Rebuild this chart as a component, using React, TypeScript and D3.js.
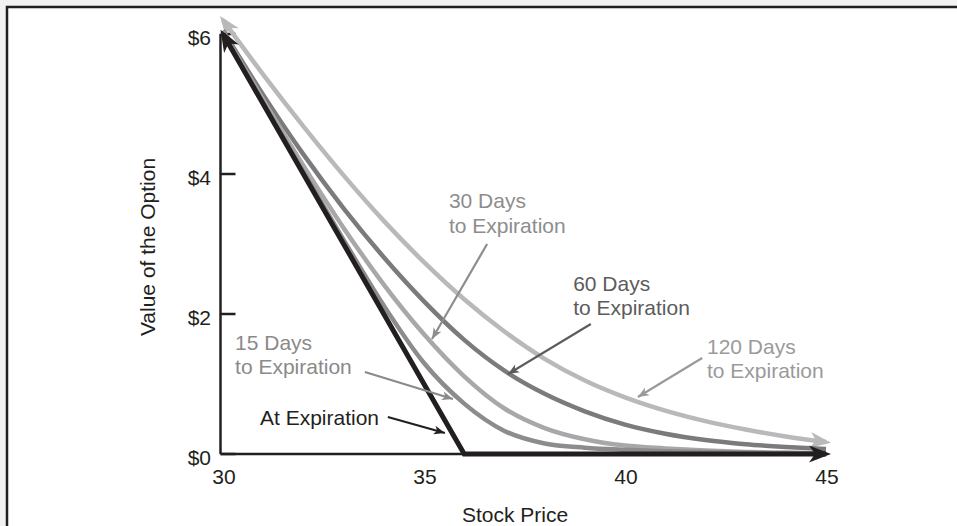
import React from 'react';
import * as d3 from 'd3';

// ---- Data ----
const stockPrices = [30, 31, 32, 33, 34, 35, 36, 37, 38, 39, 40, 41, 42, 43, 44, 45];
const atExpirationPrices = [30, 36, 45];
const atExpirationValues = [6, 0, 0];
const days15Values = [6.02, 5.02, 4.03, 3.06, 2.12, 1.3, 0.72, 0.33, 0.15, 0.09, 0.06, 0.04, 0.03, 0.02, 0.01, 0.01];
const days30Values = [6.03, 5.06, 4.12, 3.23, 2.42, 1.71, 1.11, 0.65, 0.37, 0.21, 0.12, 0.08, 0.05, 0.03, 0.02, 0.01];
const days60Values = [6.05, 5.13, 4.28, 3.51, 2.81, 2.18, 1.63, 1.19, 0.86, 0.61, 0.42, 0.29, 0.2, 0.14, 0.1, 0.07];
const days120Values = [6.2, 5.42, 4.68, 3.98, 3.33, 2.74, 2.21, 1.75, 1.36, 1.05, 0.81, 0.62, 0.47, 0.35, 0.25, 0.17];

const xTicks = [30, 35, 40, 45];
const yTicks = [0, 2, 4, 6];
const yTickLabels = ['$0', '$2', '$4', '$6'];

const xTitle = 'Stock Price';
const yTitle = 'Value of the Option';

// annotation anchors in data units (stock price, option value)
const annotations = [
  { lines: ['30 Days', 'to Expiration'], textS: 35.62, textV: 3.514, fromS: 36.57, fromV: 3.0, toS: 35.2, toV: 1.643, color: '#8d8d8d' },
  { lines: ['60 Days', 'to Expiration'], textS: 38.71, textV: 2.329, fromS: 39.15, fromV: 1.857, toS: 37.09, toV: 1.143, color: '#5c5c5c' },
  { lines: ['120 Days', 'to Expiration'], textS: 42.04, textV: 1.429, fromS: 41.92, fromV: 1.371, toS: 40.32, toV: 0.814, color: '#9a9a9a' },
  { lines: ['15 Days', 'to Expiration'], textS: 30.3, textV: 1.486, fromS: 33.53, fromV: 1.171, toS: 35.72, toV: 0.786, color: '#8a8a8a' },
  { lines: ['At Expiration'], textS: 30.92, textV: 0.414, fromS: 34.1, fromV: 0.529, toS: 35.52, toV: 0.3, color: '#231f20' },
];

const FONT = '"Liberation Sans", Arial, Helvetica, sans-serif';
const FS = 21;

export default function App() {
  const W = 957;
  const H = 526;
  const x = d3.scaleLinear().domain([30, 45]).range([223, 826]);
  const y = d3.scaleLinear().domain([0, 6]).range([454, 34]);
  const axisX = x(30) - 2.5;

  const smooth = d3
    .line<[number, number]>()
    .x((d) => x(d[0]))
    .y((d) => y(d[1]))
    .curve(d3.curveMonotoneX);
  const straight = d3
    .line<[number, number]>()
    .x((d) => x(d[0]))
    .y((d) => y(d[1]));

  const pts = (vals: number[]) => stockPrices.map((s, i) => [s, vals[i]] as [number, number]);
  const expPts = atExpirationPrices.map((s, i) => [s, atExpirationValues[i]] as [number, number]);

  const curves = [
    { vals: days120Values, color: '#b9b9bb', width: 4.5, marker: 'arrLight' },
    { vals: days60Values, color: '#7b7b7d', width: 4.5, marker: null },
    { vals: days30Values, color: '#a8a8aa', width: 4.5, marker: null },
    { vals: days15Values, color: '#8c8c8e', width: 4.5, marker: null },
  ];

  return (
    <svg
      width={W}
      height={H}
      style={{ position: 'absolute', left: 0, top: 0, background: '#fff' }}
      fontFamily={FONT}
    >
      <defs>
        <marker id="arrBlack" viewBox="-24 -9 25 18" refX={-5} refY={0} markerWidth={25} markerHeight={18}
          markerUnits="userSpaceOnUse" orient="auto-start-reverse">
          <path d="M0,0 L-22,-8.5 L-16,0 L-22,8.5 Z" fill="#231f20" />
        </marker>
        <marker id="arrLight" viewBox="-24 -9 25 18" refX={-5} refY={0} markerWidth={25} markerHeight={18}
          markerUnits="userSpaceOnUse" orient="auto-start-reverse">
          <path d="M0,0 L-21,-8 L-15,0 L-21,8 Z" fill="#b9b9bb" />
        </marker>
        {annotations.map((a, i) => (
          <marker key={i} id={`ann${i}`} viewBox="-12 -5 13 10" refX={0} refY={0} markerWidth={13} markerHeight={10}
            markerUnits="userSpaceOnUse" orient="auto">
            <path d="M0,0 L-11,-4.5 L-8,0 L-11,4.5 Z" fill={a.color} />
          </marker>
        ))}
      </defs>

      {/* frame */}
      <rect x={0} y={0} width={W} height={6} fill="#f2f2f2" />
      <rect x={0} y={0} width={6} height={H} fill="#f2f2f2" />
      <path d={`M7,${H} V7 H${W}`} fill="none" stroke="#231f20" strokeWidth={2.5} />

      {/* axes */}
      <line x1={axisX} x2={axisX} y1={y(6)} y2={y(0)} stroke="#231f20" strokeWidth={2.5} />
      <line x1={axisX} x2={x(45)} y1={y(0)} y2={y(0)} stroke="#231f20" strokeWidth={2.5} />
      {yTicks.map((t, i) => (
        <g key={t}>
          <line x1={axisX} x2={axisX + 15} y1={y(t)} y2={y(t)} stroke="#231f20" strokeWidth={2.5} />
          <text x={211} y={y(t) + 11} textAnchor="end" fontSize={FS} fill="#231f20">
            {yTickLabels[i]}
          </text>
        </g>
      ))}
      {xTicks.map((t) => (
        <text key={t} x={x(t) + 1} y={483.5} textAnchor="middle" fontSize={FS} fill="#231f20">
          {t}
        </text>
      ))}
      <text x={515} y={522} textAnchor="middle" fontSize={FS} fill="#231f20">
        {xTitle}
      </text>
      <text transform="translate(155,247) rotate(-90)" textAnchor="middle" fontSize={FS} fill="#231f20">
        {yTitle}
      </text>

      {/* curves */}
      {curves.map((c, i) => (
        <path
          key={i}
          d={smooth(pts(c.vals)) || ''}
          fill="none"
          stroke={c.color}
          strokeWidth={c.width}
          markerStart={c.marker ? `url(#${c.marker})` : undefined}
          markerEnd={c.marker ? `url(#${c.marker})` : undefined}
        />
      ))}
      <path
        d={straight(expPts) || ''}
        fill="none"
        stroke="#231f20"
        strokeWidth={5}
        strokeLinejoin="miter"
        markerStart="url(#arrBlack)"
        markerEnd="url(#arrBlack)"
      />

      {/* annotations */}
      {annotations.map((a, i) => (
        <g key={i}>
          <line
            x1={x(a.fromS)}
            y1={y(a.fromV)}
            x2={x(a.toS)}
            y2={y(a.toV)}
            stroke={a.color}
            strokeWidth={2.2}
            markerEnd={`url(#ann${i})`}
          />
          <text fontSize={FS} fill={a.color}>
            {a.lines.map((l, j) => (
              <tspan key={j} x={x(a.textS)} y={y(a.textV) + j * 24.5}>
                {l}
              </tspan>
            ))}
          </text>
        </g>
      ))}
    </svg>
  );
}
